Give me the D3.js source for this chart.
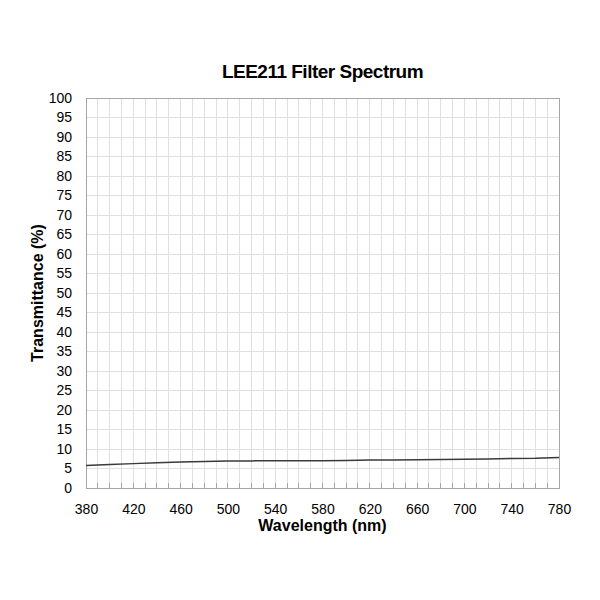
<!DOCTYPE html>
<html lang="en">
<head>
	<meta charset="utf-8">
	<title>LEE211 Filter Spectrum</title>
	<script src="https://d3js.org/d3.v7.min.js" charset="utf-8"></script>
	<style>
		body {
			margin: 0;
			background: #fff;
			font-family: "Liberation Sans", Arial, sans-serif;
		}
		.grid line {
			stroke: #e0e0e0;
			stroke-width: 1px;
			shape-rendering: crispEdges;
		}
		.frame {
			fill: none;
			stroke: #a6a6a6;
			stroke-width: 1px;
			shape-rendering: crispEdges;
		}
		.axis text {
			font-size: 14px;
			fill: #000;
		}
		.axis path, .axis line {
			display: none;
		}
		.ticks line {
			stroke: #a6a6a6;
			shape-rendering: crispEdges;
		}
		.line {
			fill: none;
			stroke: #3a3a3a;
			stroke-width: 1.5px;
		}
		.title {
			font-size: 19px;
			font-weight: bold;
			letter-spacing: -0.5px;
		}
		.label {
			font-size: 16px;
			font-weight: bold;
		}
	</style>
</head>
<body>
<script>

	// wavelength (nm) and transmittance (%)
	var wavelengths = [380, 400, 420, 440, 460, 480, 500, 520, 540, 560, 580,
		600, 620, 640, 660, 680, 700, 720, 740, 760, 780];
	var transmittance = [5.8, 6.0, 6.25, 6.45, 6.65, 6.8, 6.9, 6.95, 7.0, 7.0, 7.0,
		7.05, 7.15, 7.2, 7.25, 7.3, 7.4, 7.45, 7.55, 7.6, 7.8];

	var xTicks = d3.range(380, 781, 40);
	var yTicks = d3.range(0, 101, 5);
	var xGrid = d3.range(380, 781, 10);

	var width = 600, height = 600;
	var margin = {top: 98, right: 41, bottom: 112, left: 86};
	var w = width - margin.left - margin.right,
		h = height - margin.top - margin.bottom;

	var svg = d3.select("body")
		.append("svg")
		.attr("width", width)
		.attr("height", height);

	var g = svg.append("g")
		.attr("transform", "translate(" + margin.left + "," + margin.top + ")");

	var x = d3.scaleLinear().domain([380, 780]).range([0, w]);
	var y = d3.scaleLinear().domain([0, 100]).range([h, 0]);

	// gridlines
	var grid = g.append("g").attr("class", "grid");
	grid.selectAll(".v")
		.data(xGrid)
		.enter()
		.append("line")
		.attr("x1", function(d){ return x(d); })
		.attr("x2", function(d){ return x(d); })
		.attr("y1", 0)
		.attr("y2", h);
	grid.selectAll(".h")
		.data(yTicks)
		.enter()
		.append("line")
		.attr("x1", 0)
		.attr("x2", w)
		.attr("y1", function(d){ return y(d); })
		.attr("y2", function(d){ return y(d); });

	// small tick marks along the bottom, inside the plot
	g.append("g")
		.attr("class", "ticks")
		.selectAll("line")
		.data(xGrid)
		.enter()
		.append("line")
		.attr("x1", function(d){ return x(d); })
		.attr("x2", function(d){ return x(d); })
		.attr("y1", h)
		.attr("y2", h - 5);

	g.append("rect")
		.attr("class", "frame")
		.attr("x", 0)
		.attr("y", 0)
		.attr("width", w)
		.attr("height", h);

	// axes
	g.append("g")
		.attr("class", "axis")
		.attr("transform", "translate(0," + h + ")")
		.call(d3.axisBottom(x).tickValues(xTicks).tickSize(0).tickPadding(16).tickFormat(d3.format("d")));

	g.append("g")
		.attr("class", "axis")
		.call(d3.axisLeft(y).tickValues(yTicks).tickSize(0).tickPadding(14).tickFormat(d3.format("d")));

	// data line
	var line = d3.line()
		.x(function(d, i){ return x(wavelengths[i]); })
		.y(function(d){ return y(d); });

	g.append("path")
		.datum(transmittance)
		.attr("class", "line")
		.attr("d", line);

	// titles
	svg.append("text")
		.attr("class", "title")
		.attr("x", margin.left + w / 2)
		.attr("y", 78)
		.attr("text-anchor", "middle")
		.text("LEE211 Filter Spectrum");

	svg.append("text")
		.attr("class", "label")
		.attr("x", margin.left + w / 2)
		.attr("y", 531)
		.attr("text-anchor", "middle")
		.text("Wavelength (nm)");

	svg.append("text")
		.attr("class", "label")
		.attr("transform", "translate(43," + (margin.top + h / 2) + ") rotate(-90)")
		.attr("text-anchor", "middle")
		.text("Transmittance (%)");

</script>
</body>
</html>
